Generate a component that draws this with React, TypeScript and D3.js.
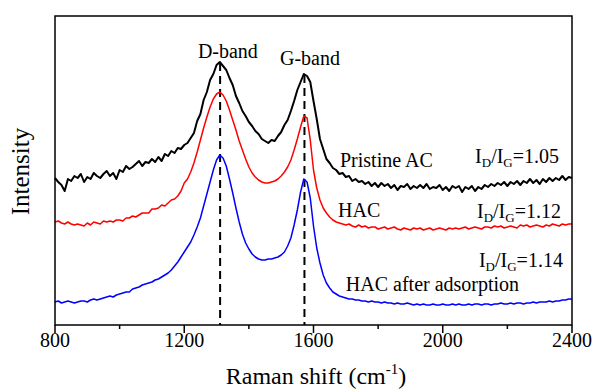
import React from "react";
import * as d3 from "d3";

// Raman shift grid (cm^-1): 800 to 2400, 10 cm^-1 step
const SHIFT_START = 800;
const SHIFT_STEP = 10;

const pristineAC = [
  147, 143, 140, 134, 146, 144, 149, 147, 151, 143,
  148, 146, 152, 149, 147, 151, 154, 149, 152, 146,
  155, 153, 159, 156, 158, 161, 164, 159, 163, 162,
  166, 163, 168, 164, 171, 169, 174, 172, 177, 176,
  180, 182, 187, 192, 204, 211, 225, 233, 245, 251,
  260, 263, 259, 255, 247, 240, 229, 222, 214, 209,
  203, 199, 194, 191, 186, 184, 182, 185, 184, 189,
  193, 200, 205, 214, 224, 235, 243, 251, 249, 243,
  224, 206, 186, 176, 166, 162, 157, 155, 151, 152,
  148, 149, 144, 146, 143, 144, 141, 143, 139, 142,
  138, 142, 139, 141, 137, 140, 135, 139, 138, 141,
  136, 139, 137, 140, 137, 141, 136, 138, 137, 140,
  135, 138, 134, 139, 137, 139, 133, 138, 136, 139,
  134, 138, 136, 140, 138, 141, 139, 142, 140, 143,
  139, 143, 141, 144, 140, 144, 142, 146, 142, 145,
  141, 146, 143, 147, 144, 147, 145, 149, 145, 148,
  147,
];

const hac = [
  103, 104, 102, 101, 103, 101, 100, 101, 100, 99,
  102, 100, 103, 102, 101, 104, 103, 104, 103, 105,
  105, 104, 107, 107, 109, 108, 110, 112, 112, 112,
  116, 116, 117, 120, 119, 122, 125, 126, 129, 134,
  142, 146, 153, 162, 173, 185, 197, 208, 218, 226,
  231, 233, 230, 224, 215, 205, 195, 184, 175, 166,
  158, 152, 148, 145, 143, 142, 142, 143, 144, 146,
  149, 153, 158, 165, 175, 186, 198, 209, 207, 185,
  155, 137, 125, 117, 112, 108, 105, 103, 102, 101,
  100, 101, 99, 98, 100, 98, 99, 97, 98, 98,
  96, 97, 98, 96, 97, 98, 96, 95, 97, 96,
  95, 97, 96, 97, 95, 96, 97, 95, 96, 97,
  96, 95, 97, 96, 97, 96, 97, 98, 96, 97,
  98, 97, 96, 98, 98, 97, 99, 98, 99, 97,
  98, 99, 98, 97, 100, 99, 100, 98, 99, 100,
  99, 98, 100, 99, 101, 100, 99, 101, 100, 101,
  101,
];

const hacAfterAdsorption = [
  23, 24, 22, 23, 24, 23, 22, 23, 24, 24,
  23, 25, 26, 25, 26, 27, 28, 29, 28, 30,
  31, 32, 33, 33, 36, 37, 38, 40, 41, 42,
  43, 45, 46, 48, 50, 52, 55, 59, 63, 68,
  73, 78, 83, 90, 98, 107, 119, 131, 143, 155,
  165, 170, 167, 159, 146, 132, 117, 103, 91, 82,
  76, 71, 68, 66, 65, 65, 66, 66, 67, 68,
  70, 73, 79, 87, 100, 115, 133, 146, 143, 127,
  99, 77, 62, 50, 42, 37, 33, 31, 29, 28,
  27, 26, 26, 25, 25, 24, 24, 23, 24, 23,
  23, 22, 23, 22, 22, 21, 22, 21, 21, 22,
  21, 20, 21, 20, 21, 20, 20, 21, 20, 20,
  21, 20, 20, 21, 20, 21, 20, 20, 21, 20,
  21, 21, 20, 21, 21, 20, 21, 21, 22, 21,
  21, 22, 21, 22, 22, 21, 22, 22, 23, 22,
  23, 23, 23, 24, 23, 24, 24, 25, 25, 26,
  26,
];

const seriesNames = ["Pristine AC", "HAC", "HAC after adsorption"];
const ratioLabels = ["1.05", "1.12", "1.14"];

const bandNames = ["D-band", "G-band"];
const bandPositions = [1311, 1572];
const bandTopIntensity = [262, 250];

const majorTicks = [800, 1200, 1600, 2000, 2400];
const minorTicks = [1000, 1400, 1800, 2200];

const W = 594;
const H = 392;
const M = { left: 55, right: 572, top: 16, bottom: 325 };
const FONT = "'Liberation Serif', 'Times New Roman', serif";

export default function App() {
  const x = d3.scaleLinear().domain([800, 2400]).range([M.left, M.right]);
  const y = d3.scaleLinear().domain([0, 309]).range([M.bottom, M.top]);

  const mk = (vals: number[]) =>
    d3
      .line<number>()
      .x((_, i) => x(SHIFT_START + i * SHIFT_STEP))
      .y((v) => y(v))(vals) as string;

  const series = [
    { vals: pristineAC, color: "#000000", w: 2 },
    { vals: hac, color: "#ff0000", w: 1.5 },
    { vals: hacAfterAdsorption, color: "#0000ff", w: 1.5 },
  ];

  // annotation placement (wavenumber, intensity)
  const nameAt = [
    [1682, 158],
    [1676, 108],
    [1700, 34],
  ];
  const ratioAt = [
    [2100, 162],
    [2106, 107],
    [2112, 58.5],
  ];
  const bandLabelAt = [
    [1335, 267],
    [1589, 260],
  ];

  const txt = { fontFamily: FONT };

  return (
    <svg
      width={W}
      height={H}
      style={{ position: "absolute", left: 0, top: 0, background: "#fff", fontFamily: FONT }}
    >
      <rect x={0} y={0} width={W} height={H} fill="#fff" />
      {/* dashed band lines */}
      {bandPositions.map((b, i) => (
        <line
          key={"d" + i}
          x1={x(b)}
          x2={x(b)}
          y1={y(bandTopIntensity[i])}
          y2={M.bottom}
          stroke="#000"
          strokeWidth={2}
          strokeDasharray="8,5"
        />
      ))}
      {/* spectra */}
      {series.map((s, i) => (
        <path
          key={i}
          d={mk(s.vals)}
          fill="none"
          stroke={s.color}
          strokeWidth={s.w}
          strokeLinejoin="round"
        />
      ))}
      {/* frame */}
      <rect
        x={M.left}
        y={M.top}
        width={M.right - M.left}
        height={M.bottom - M.top}
        fill="none"
        stroke="#000"
        strokeWidth={1.5}
      />
      {/* ticks */}
      {majorTicks.map((t) => (
        <g key={"M" + t}>
          <line x1={x(t)} x2={x(t)} y1={M.bottom} y2={M.bottom + 8} stroke="#000" strokeWidth={1.5} />
          <text x={x(t)} y={347} textAnchor="middle" fontSize={20} fill="#000" style={txt}>
            {t}
          </text>
        </g>
      ))}
      {minorTicks.map((t) => (
        <line key={"m" + t} x1={x(t)} x2={x(t)} y1={M.bottom} y2={M.bottom + 4} stroke="#000" strokeWidth={1.5} />
      ))}
      {/* axis titles */}
      <text x={316} y={384} textAnchor="middle" fontSize={24} fill="#000" style={txt}>
        Raman shift (cm
        <tspan fontSize={15} dy={-10}>-1</tspan>
        <tspan dy={10}>)</tspan>
      </text>
      <text
        transform={`translate(29, ${(M.top + M.bottom) / 2 + 1}) rotate(-90)`}
        textAnchor="middle"
        fontSize={25}
        fill="#000"
        style={txt}
      >
        Intensity
      </text>
      {/* band labels */}
      {bandNames.map((n, i) => (
        <text
          key={n}
          x={x(bandLabelAt[i][0])}
          y={y(bandLabelAt[i][1])}
          textAnchor="middle"
          fontSize={20}
          fill="#000"
          style={txt}
        >
          {n}
        </text>
      ))}
      {/* series labels */}
      {seriesNames.map((n, i) => (
        <text key={n} x={x(nameAt[i][0])} y={y(nameAt[i][1])} fontSize={20} fill="#000" style={txt}>
          {n}
        </text>
      ))}
      {ratioLabels.map((r, i) => (
        <text key={r} x={x(ratioAt[i][0])} y={y(ratioAt[i][1])} fontSize={20} fill="#000" style={txt}>
          I<tspan fontSize={13} dy={4}>D</tspan>
          <tspan dy={-4}>/I</tspan>
          <tspan fontSize={13} dy={4}>G</tspan>
          <tspan dy={-4}>={r}</tspan>
        </text>
      ))}
    </svg>
  );
}
